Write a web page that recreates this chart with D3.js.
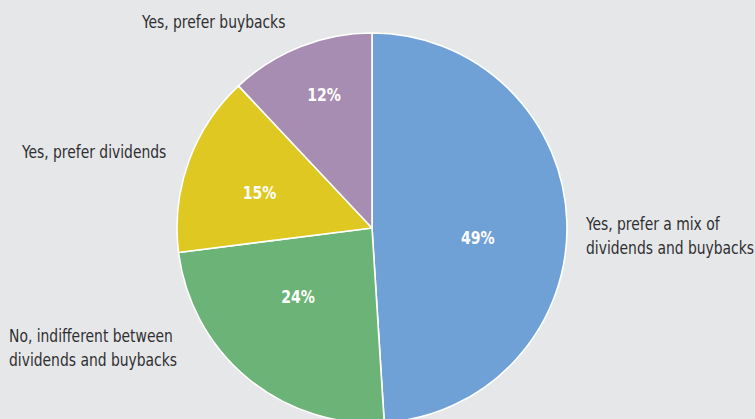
<!DOCTYPE html>
<html>
<head>
<meta charset="utf-8">
<script src="https://cdn.jsdelivr.net/npm/d3@7"></script>
<style>
  html, body { margin: 0; padding: 0; background: #e6e7e9; }
  svg { display: block; }
  .cat { font-family: "DejaVu Sans Condensed", "DejaVu Sans", sans-serif; font-size: 18.5px; fill: #2f2f31; }
  .pct { font-family: "DejaVu Sans Condensed", "DejaVu Sans", sans-serif; font-size: 18px; font-weight: bold; fill: #ffffff; }
</style>
</head>
<body>
<script>
// Survey answers, in clockwise order starting at 12 o'clock
const categories = [
  ["Yes, prefer a mix of", "dividends and buybacks"],
  ["No, indifferent between", "dividends and buybacks"],
  ["Yes, prefer dividends"],
  ["Yes, prefer buybacks"]
];
const shares = [49, 24, 15, 12];
const colors = ["#6fa1d6", "#6bb376", "#dec821", "#a78db1"];

// Placement of the percentage labels: angle shift (deg) from the slice middle and radius fraction
const pctPlacement = [[6.9, 0.545], [7.6, 0.517], [-2.3, 0.605], [1.8, 0.725]];
// Placement of the category labels
const catPlacement = [
  { x: 586, y: 229.5 },
  { x: 9,   y: 342 },
  { x: 22,  y: 158 },
  { x: 142, y: 28 }
];

// Horizontal squeeze giving the narrow typeface look
const catSqueeze = 0.835, pctSqueeze = 0.87;

const W = 755, H = 419;
const cx = 372, cy = 228, R = 195;

const svg = d3.select("body").append("svg")
  .attr("width", W).attr("height", H);

svg.append("rect").attr("width", W).attr("height", H).attr("fill", "#e6e7e9");

const pie = d3.pie().sort(null).value(d => d);
const arcs = pie(shares);
const arc = d3.arc().innerRadius(0).outerRadius(R);

const g = svg.append("g").attr("transform", `translate(${cx},${cy})`);

g.selectAll("path.slice")
  .data(arcs)
  .join("path")
  .attr("class", "slice")
  .attr("d", arc)
  .attr("fill", (d, i) => colors[i])
  .attr("stroke", "#ffffff")
  .attr("stroke-width", 1.6)
  .attr("stroke-linejoin", "round");

g.selectAll("text.pct")
  .data(arcs)
  .join("text")
  .attr("class", "pct")
  .attr("text-anchor", "middle")
  .attr("dy", "0.36em")
  .attr("transform", (d, i) => {
    const a = (d.startAngle + d.endAngle) / 2 + pctPlacement[i][0] * Math.PI / 180;
    const r = pctPlacement[i][1] * R;
    return `translate(${r * Math.sin(a)},${-r * Math.cos(a)}) scale(${pctSqueeze},1)`;
  })
  .text(d => d.data + "%");

categories.forEach((lines, i) => {
  const p = catPlacement[i];
  const t = svg.append("text")
    .attr("class", "cat")
    .attr("transform", `translate(${p.x},${p.y}) scale(${catSqueeze},1)`);
  lines.forEach((ln, j) => {
    t.append("tspan")
      .attr("x", 0)
      .attr("dy", j === 0 ? 0 : 24.2)
      .text(ln);
  });
});
</script>
</body>
</html>
